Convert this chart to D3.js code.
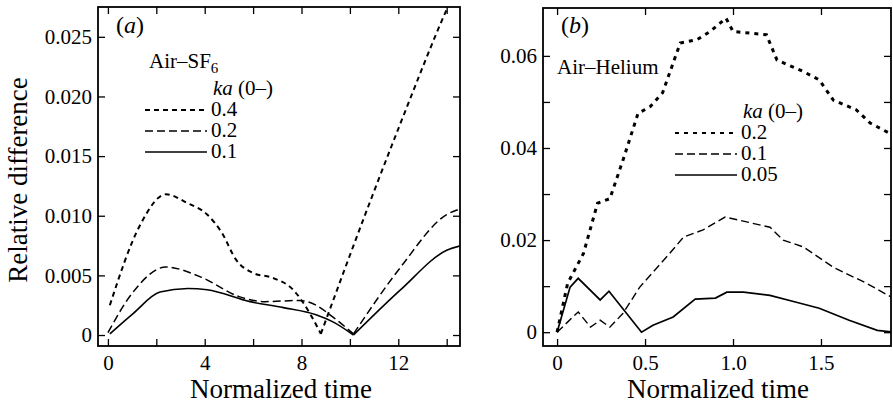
<!DOCTYPE html>
<html>
<head>
<meta charset="utf-8">
<script src="https://cdn.jsdelivr.net/npm/d3@7"></script>
<style>
  body { margin: 0; background: #fff; }
  svg { display: block; font-family: "Liberation Serif", "DejaVu Serif", serif; }
  .tick line { stroke: #000; stroke-width: 1.3; }
  .domain { display: none; }
  .frame { fill: none; stroke: #000; stroke-width: 1.8; }
  .series { fill: none; stroke: #000; }
  .label { fill: #000; }
</style>
</head>
<body>
<svg id="chart" width="893" height="406"></svg>
<script>
// panel (a) Air-SF6
const sfTicksX = [0, 4, 8, 12];
const sfMinorX = [2, 6, 10, 14];
const sfTicksY = [0, 0.005, 0.01, 0.015, 0.02, 0.025];
const sfKa = ["0.4", "0.2", "0.1"];

const sfTime04 = [0.08, 1.3, 2.4, 3.25, 4.1, 4.7, 5.3, 6.0, 6.8, 7.65, 8.35, 8.8, 10.8, 12.1, 14.0, 14.6];
const sfVal04 = [0.0025, 0.0091, 0.0118, 0.0111, 0.0101, 0.0086, 0.0063, 0.0052, 0.0048, 0.0038, 0.0018, 0.0001, 0.011, 0.0178, 0.0273, 0.0300];
const sfTime02 = [0, 1.0, 2.4, 3.8, 5.45, 6.5, 7.9, 8.6, 9.3, 10.15, 12.1, 14.0, 14.6];
const sfVal02 = [0.0002, 0.0035, 0.0057, 0.0049, 0.0032, 0.0028, 0.0029, 0.0025, 0.0015, 0.0001, 0.0057, 0.0101, 0.0106];
const sfTime01 = [0.08, 1.04, 2.15, 3.3, 4.1, 5.87, 7.25, 8.6, 9.3, 10.15, 12.1, 14.0, 14.6];
const sfVal01 = [0.0001, 0.0018, 0.0036, 0.0039, 0.0038, 0.0028, 0.0023, 0.0017, 0.0011, 0.0, 0.0038, 0.0071, 0.0075];

// panel (b) Air-Helium
const heTicksX = [0, 0.5, 1.0, 1.5];
const heTicksY = [0, 0.02, 0.04, 0.06];
const heMinorY = [0.01, 0.03, 0.05];
const heKa = ["0.2", "0.1", "0.05"];

const heTime02 = [0, 0.06, 0.15, 0.23, 0.30, 0.375, 0.46, 0.53, 0.60, 0.70, 0.795, 0.87, 0.96, 1.0, 1.19, 1.25, 1.40, 1.49, 1.57, 1.70, 1.78, 1.91];
const heVal02 = [0, 0.0106, 0.0171, 0.028, 0.029, 0.0374, 0.0475, 0.049, 0.052, 0.0628, 0.0635, 0.0653, 0.0682, 0.0653, 0.0646, 0.0591, 0.0566, 0.0548, 0.0504, 0.0483, 0.0454, 0.0428];
const heTime01 = [0, 0.12, 0.19, 0.245, 0.30, 0.375, 0.47, 0.64, 0.72, 0.83, 0.955, 1.21, 1.285, 1.40, 1.57, 1.76, 1.91];
const heVal01 = [0, 0.0044, 0.0011, 0.0026, 0.0011, 0.0041, 0.0098, 0.0171, 0.0207, 0.0222, 0.025, 0.0228, 0.020, 0.0185, 0.0141, 0.0106, 0.0074];
const heTime005 = [0, 0.074, 0.12, 0.245, 0.295, 0.48, 0.545, 0.66, 0.785, 0.90, 0.965, 1.06, 1.21, 1.36, 1.49, 1.66, 1.82, 1.91];
const heVal005 = [0, 0.0098, 0.0117, 0.007, 0.0089, 0, 0.0015, 0.0033, 0.0072, 0.0074, 0.0087, 0.0087, 0.0080, 0.0065, 0.0052, 0.0026, 0.0004, 0];

const serif = '"Liberation Serif", "DejaVu Serif", serif';
const svg = d3.select("#chart");
const zip = (xs, ys) => xs.map((x, i) => [x, ys[i]]);

// split a curve at its sharp minima so the smoothing keeps the V corners
const splitAt = (pts, kinks) => {
  const parts = [];
  let start = 0;
  kinks.forEach((k) => {
    parts.push(pts.slice(start, k + 1));
    start = k;
  });
  parts.push(pts.slice(start));
  return parts;
};

// d3 puts sans-serif 10px on axis groups, undo that
const restyle = (sel) => {
  sel.attr("font-family", null).attr("font-size", null);
  sel.selectAll(".tick text")
    .style("font-family", serif)
    .style("font-size", "21px")
    .attr("fill", "#000");
};

const drawPanel = (p) => {
  const x = d3.scaleLinear().domain(p.xDomain).range([p.left, p.right]);
  const y = d3.scaleLinear().domain(p.yDomain).range([p.bottom, p.top]);
  const g = svg.append("g");

  g.append("clipPath")
    .attr("id", p.id + "-clip")
    .append("rect")
    .attr("x", p.left)
    .attr("y", p.top)
    .attr("width", p.right - p.left)
    .attr("height", p.bottom - p.top);

  // inward ticks on all four sides
  const tl = 7;
  const allX = p.ticksX.concat(p.minorX || []);
  const allY = p.ticksY.concat(p.minorY || []);

  g.append("g")
    .attr("transform", `translate(0,${p.bottom})`)
    .call(d3.axisBottom(x).tickValues(allX).tickSize(-tl).tickSizeOuter(0).tickPadding(9)
      .tickFormat((d) => (p.ticksX.includes(d) ? p.fmtX(d) : "")))
    .call(restyle);
  g.append("g")
    .attr("transform", `translate(0,${p.top})`)
    .call(d3.axisTop(x).tickValues(allX).tickSize(-tl).tickSizeOuter(0).tickFormat(""));
  g.append("g")
    .attr("transform", `translate(${p.left},0)`)
    .call(d3.axisLeft(y).tickValues(allY).tickSize(-tl).tickSizeOuter(0).tickPadding(6)
      .tickFormat((d) => (p.ticksY.includes(d) ? p.fmtY(d) : "")))
    .call(restyle);
  g.append("g")
    .attr("transform", `translate(${p.right},0)`)
    .call(d3.axisLeft(y).tickValues(allY).tickSize(tl).tickSizeOuter(0).tickFormat(""));

  g.append("rect")
    .attr("class", "frame")
    .attr("x", p.left)
    .attr("y", p.top)
    .attr("width", p.right - p.left)
    .attr("height", p.bottom - p.top);

  const line = d3.line().x((d) => x(d[0])).y((d) => y(d[1])).curve(p.curve);

  const lines = g.append("g").attr("clip-path", `url(#${p.id}-clip)`);
  p.series.forEach((s) => {
    lines.selectAll(null)
      .data(splitAt(s.points, s.kinks || []))
      .join("path")
      .attr("class", "series")
      .attr("d", line)
      .attr("stroke-width", s.width)
      .attr("stroke-dasharray", s.dash);
  });

  // legend
  const lg = g.append("g");
  lg.append("text")
    .attr("class", "label")
    .attr("x", p.legend.x + 68)
    .attr("y", p.legend.y)
    .attr("font-size", 21)
    .html('<tspan font-style="italic">ka</tspan> (0–)');
  p.series.forEach((s, i) => {
    const ly = p.legend.y + 21 * (i + 1);
    lg.append("line")
      .attr("x1", p.legend.x)
      .attr("x2", p.legend.x + 62)
      .attr("y1", ly - 6)
      .attr("y2", ly - 6)
      .attr("stroke", "#000")
      .attr("stroke-width", Math.min(s.width, 2.2))
      .attr("stroke-dasharray", s.dash);
    lg.append("text")
      .attr("class", "label")
      .attr("x", p.legend.x + 66)
      .attr("y", ly)
      .attr("font-size", 21)
      .text(s.name);
  });

  g.append("text")
    .attr("class", "label")
    .attr("x", p.tagX)
    .attr("y", 33)
    .attr("font-size", 24)
    .html(`(<tspan font-style="italic">${p.tag}</tspan>)`);

  g.append("text")
    .attr("class", "label")
    .attr("x", p.gasX)
    .attr("y", p.gasY)
    .attr("font-size", 21)
    .html(p.gas);

  g.append("text")
    .attr("class", "label")
    .attr("x", (p.left + p.right) / 2 + p.titleShift)
    .attr("y", 398)
    .attr("text-anchor", "middle")
    .attr("font-size", 27)
    .text("Normalized time");
};

drawPanel({
  id: "a",
  left: 98, right: 460, top: 7, bottom: 346,
  xDomain: [-0.41, 14.55], yDomain: [-0.00092, 0.0275],
  ticksX: sfTicksX, minorX: sfMinorX, ticksY: sfTicksY,
  fmtX: (d) => String(d),
  fmtY: (d) => (d === 0 ? "0" : d3.format(".3f")(d)),
  curve: d3.curveMonotoneX,
  series: [
    { name: sfKa[0], points: zip(sfTime04, sfVal04), kinks: [11], width: 2, dash: "5,4" },
    { name: sfKa[1], points: zip(sfTime02, sfVal02), kinks: [9], width: 1.5, dash: "8,4" },
    { name: sfKa[2], points: zip(sfTime01, sfVal01), kinks: [9], width: 1.6, dash: null },
  ],
  legend: { x: 145, y: 95 },
  tag: "a", tagX: 116,
  gas: 'Air–SF<tspan dy="5" font-size="15">6</tspan>', gasX: 149, gasY: 68,
  titleShift: 2,
});

drawPanel({
  id: "b",
  left: 543, right: 891, top: 8, bottom: 346,
  xDomain: [-0.08, 1.898], yDomain: [-0.003, 0.0704],
  ticksX: heTicksX, ticksY: heTicksY, minorY: heMinorY,
  fmtX: (d) => (d === 0 ? "0" : d3.format(".1f")(d)),
  fmtY: (d) => (d === 0 ? "0" : d3.format(".2f")(d)),
  curve: d3.curveLinear,
  series: [
    { name: heKa[0], points: zip(heTime02, heVal02), width: 3, dash: "4,5" },
    { name: heKa[1], points: zip(heTime01, heVal01), width: 1.4, dash: "8,4" },
    { name: heKa[2], points: zip(heTime005, heVal005), width: 1.7, dash: null },
  ],
  legend: { x: 675, y: 118 },
  tag: "b", tagX: 561,
  gas: "Air–Helium", gasX: 557, gasY: 74,
  titleShift: 1,
});

svg.append("text")
  .attr("class", "label")
  .attr("transform", "translate(27,180) rotate(-90)")
  .attr("text-anchor", "middle")
  .attr("font-size", 27)
  .text("Relative difference");
</script>
</body>
</html>
